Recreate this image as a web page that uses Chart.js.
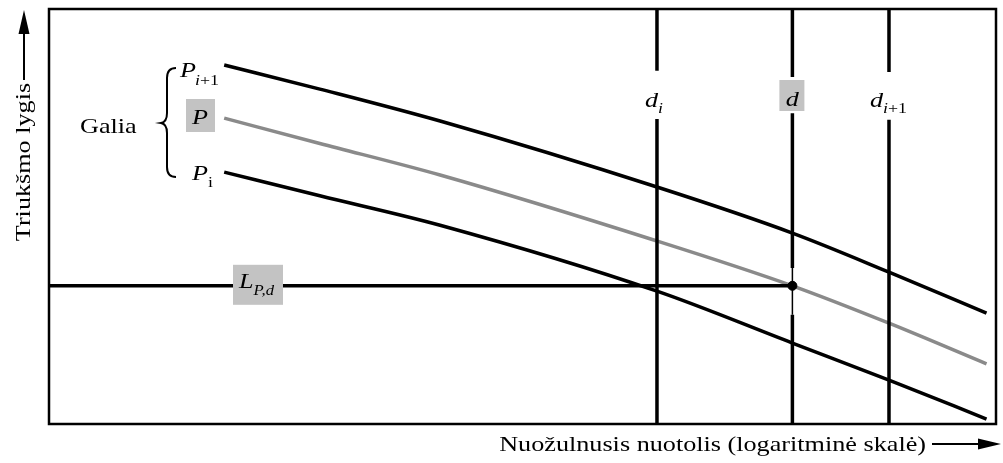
<!DOCTYPE html>
<html>
<head>
<meta charset="utf-8">
<script src="https://cdn.jsdelivr.net/npm/chart.js@4/dist/chart.umd.min.js"></script>
<style>
  html, body { margin: 0; padding: 0; background: #fff; }
  #wrap { width: 1003px; height: 463px; }
</style>
</head>
<body>
<div id="wrap"><canvas id="c" width="1003" height="463"></canvas></div>
<script>
// Slant distance (relative units along the log axis) and noise level (relative units)
const distance   = [18.5, 28.6, 41.3, 64.2, 78.5, 88.7, 99.0];
const levelUpper = [86.5, 80.7, 73.0, 57.1, 46.0, 36.6, 26.7]; // P(i+1)
const levelP     = [73.7, 67.6, 60.0, 44.1, 33.3, 24.3, 14.5]; // P
const levelLower = [60.7, 55.0, 47.9, 32.0, 19.5, 10.6, 1.2];  // P(i)

// Reference distances d(i), d, d(i+1)
const distMarks  = [64.2, 78.5, 88.7];
// Each vertical line is broken around its label: [top segment end, bottom segment start]
const markGaps   = [[85.1, 73.5], [83.6, 74.9], [84.8, 73.3]];
// Level L(P,d) at distance d
const levelAtD   = 33.3;
const thinSpan   = [37.6, 26.3];

const pts = (ys) => distance.map((x, i) => ({ x, y: ys[i] }));
const BLACK = '#000', GREY = '#8a8a8a', W = 3.5;

const seg = (a, b, color, width) => ({
  type: 'line', data: [a, b], borderColor: color, borderWidth: width,
  pointRadius: 0, tension: 0, borderCapStyle: 'butt'
});
const curve = (ys, color) => ({
  type: 'line', data: pts(ys), borderColor: color, borderWidth: W,
  pointRadius: 0, cubicInterpolationMode: 'monotone'
});

// Chart.js paints the first dataset on top, so the marker and the
// vertical lines come first and the curves last.
const datasets = [{
  type: 'scatter', data: [{ x: distMarks[1], y: levelAtD }],
  pointBackgroundColor: BLACK, pointBorderColor: BLACK, pointBorderWidth: 1, pointRadius: 4.5
}];
distMarks.forEach((x, i) => {
  datasets.push(seg({ x, y: 100 }, { x, y: markGaps[i][0] }, BLACK, W));
  if (i === 1) {
    datasets.push(seg({ x, y: markGaps[i][1] }, { x, y: thinSpan[0] }, BLACK, W));
    datasets.push(seg({ x, y: thinSpan[0] }, { x, y: thinSpan[1] }, BLACK, 1.5));
    datasets.push(seg({ x, y: thinSpan[1] }, { x, y: 0 }, BLACK, W));
  } else {
    datasets.push(seg({ x, y: markGaps[i][1] }, { x, y: 0 }, BLACK, W));
  }
});
datasets.push(
  seg({ x: 0, y: levelAtD }, { x: distMarks[1], y: levelAtD }, BLACK, W),
  curve(levelUpper, BLACK),
  curve(levelLower, BLACK),
  curve(levelP, GREY)
);

const SERIF = '"Liberation Serif", "Times New Roman", serif';
const BOXGREY = '#c3c3c3';
const STRETCH = 1.19; // typeset glyphs are a little wider than Liberation Serif

// draws a string (optionally italic) and returns its drawn width
function text(ctx, s, x, y, size, italic, align) {
  ctx.save();
  ctx.font = (italic ? 'italic ' : '') + size + 'px ' + SERIF;
  ctx.textAlign = align || 'left';
  ctx.textBaseline = 'alphabetic';
  ctx.fillStyle = '#000';
  ctx.translate(x, y);
  ctx.scale(STRETCH, 1);
  ctx.fillText(s, 0, 0);
  const w = ctx.measureText(s).width * STRETCH;
  ctx.restore();
  return w;
}

function greyBox(ctx, x, y, w, h) {
  ctx.save();
  ctx.fillStyle = BOXGREY;
  ctx.fillRect(x, y, w, h);
  ctx.restore();
}

const annotations = {
  id: 'annotations',
  afterDraw(chart) {
    const { ctx, chartArea: a, scales: { x: sx, y: sy } } = chart;
    ctx.save();
    ctx.strokeStyle = '#000';
    ctx.fillStyle = '#000';

    // frame
    ctx.lineWidth = 2.5;
    ctx.strokeRect(a.left, a.top, a.right - a.left, a.bottom - a.top);

    // "Galia" with brace
    text(ctx, 'Galia', 80, 133, 22, false);
    ctx.lineWidth = 2;
    ctx.beginPath();
    ctx.moveTo(176, 68);
    ctx.quadraticCurveTo(167, 68, 167, 78);
    ctx.lineTo(167, 113);
    ctx.quadraticCurveTo(167, 122, 161, 123);
    ctx.quadraticCurveTo(167, 124, 167, 133);
    ctx.lineTo(167, 167);
    ctx.quadraticCurveTo(167, 177, 176, 177);
    ctx.stroke();

    // P(i+1)
    let w = text(ctx, 'P', 180, 77, 22, true);
    let w2 = text(ctx, 'i', 180 + w - 1, 85, 15, true);
    text(ctx, '+1', 180 + w - 1 + w2, 85, 15, false);

    // P (grey box)
    greyBox(ctx, 186, 99, 29, 33);
    text(ctx, 'P', 200, 124, 22, true, 'center');

    // P(i)
    w = text(ctx, 'P', 192, 180, 22, true);
    text(ctx, 'i', 192 + w, 187, 15, false);

    // distance labels
    const yLab = 107;
    const xd0 = sx.getPixelForValue(distMarks[0]);
    w = text(ctx, 'd', xd0 - 12, yLab, 22, true);
    text(ctx, 'i', xd0 - 12 + w, yLab + 6, 15, true);

    const xd1 = sx.getPixelForValue(distMarks[1]);
    greyBox(ctx, xd1 - 13, 80, 25, 31);
    text(ctx, 'd', xd1, 106, 22, true, 'center');

    const xd2 = sx.getPixelForValue(distMarks[2]);
    w = text(ctx, 'd', xd2 - 19, yLab, 22, true);
    w2 = text(ctx, 'i', xd2 - 19 + w, yLab + 6, 15, true);
    text(ctx, '+1', xd2 - 19 + w + w2, yLab + 6, 15, false);

    // L(P,d) (grey box on the level line)
    const yL = sy.getPixelForValue(levelAtD);
    greyBox(ctx, 233, yL - 21, 50, 40);
    w = text(ctx, 'L', 239, yL + 2, 22, true);
    text(ctx, 'P,d', 239 + w, yL + 9, 14, true);

    // y axis title with arrow
    ctx.save();
    ctx.translate(30, 162);
    ctx.rotate(-Math.PI / 2);
    text(ctx, 'Triukšmo lygis', 0, 0, 22, false, 'center');
    ctx.restore();
    ctx.lineWidth = 2;
    ctx.beginPath();
    ctx.moveTo(24, 80);
    ctx.lineTo(24, 30);
    ctx.stroke();
    ctx.beginPath();
    ctx.moveTo(24, 10);
    ctx.lineTo(29.5, 34);
    ctx.lineTo(18.5, 34);
    ctx.closePath();
    ctx.fill();

    // x axis title with arrow
    text(ctx, 'Nuožulnusis nuotolis (logaritminė skalė)', 926, 451, 22, false, 'right');
    ctx.beginPath();
    ctx.moveTo(932, 444);
    ctx.lineTo(985, 444);
    ctx.stroke();
    ctx.beginPath();
    ctx.moveTo(1001, 444);
    ctx.lineTo(978, 438.5);
    ctx.lineTo(978, 449.5);
    ctx.closePath();
    ctx.fill();

    ctx.restore();
  }
};

new Chart(document.getElementById('c'), {
  data: { datasets },
  options: {
    responsive: false,
    animation: false,
    layout: { padding: { left: 49, right: 7, top: 9, bottom: 39 } },
    scales: {
      x: { type: 'linear', min: 0, max: 100, display: false },
      y: { type: 'linear', min: 0, max: 100, display: false }
    },
    plugins: { legend: { display: false }, tooltip: { enabled: false } },
    elements: { line: { fill: false } }
  },
  plugins: [annotations]
});
</script>
</body>
</html>
